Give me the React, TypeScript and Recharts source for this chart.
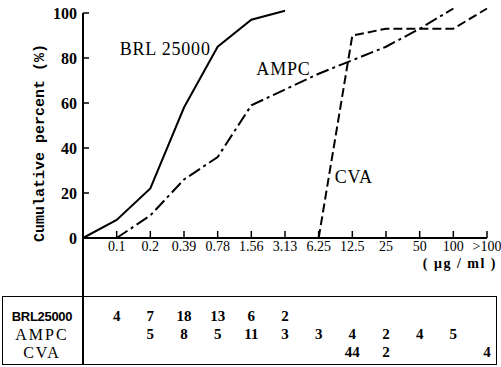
import { LineChart, Line, XAxis, YAxis, ReferenceLine, ReferenceDot, LabelList } from "recharts";

// MIC categories (first one is the origin, drawn without a label)
const categories = ["0", "0.1", "0.2", "0.39", "0.78", "1.56", "3.13", "6.25", "12.5", "25", "50", "100", ">100"];

// cumulative percent
const brlCum = [0, 8, 22, 58, 85, 97, 101, null, null, null, null, null, null];
const ampcCum = [null, 0, 10, 26, 36, 59, 66, 73, 79, 85, 93, 102, null];
const cvaCum = [null, null, null, null, null, null, null, 0, 90, 93, 93, 93, 102];

// number of strains per MIC (table under the chart)
const brlCount = [null, 4, 7, 18, 13, 6, 2, null, null, null, null, null, null];
const ampcCount = [null, null, 5, 8, 5, 11, 3, 3, 4, 2, 4, 5, null];
const cvaCount = [null, null, null, null, null, null, null, null, 44, 2, null, null, 4];

const tableRows = ["BRL25000", "AMPC", "CVA"];
const yTicks = [0, 20, 40, 60, 80, 100];

const data = categories.map((c, i) => ({
    mic: c,
    brl: brlCum[i],
    ampc: ampcCum[i],
    cva: cvaCum[i],
    brlN: brlCount[i],
    ampcN: ampcCount[i],
    cvaN: cvaCount[i],
}));

const SERIF = "'Liberation Serif', 'DejaVu Serif', serif";

const YTitle = ({ viewBox }: any) => {
    const cx = viewBox.x + 40;
    const cy = 143;
    return (
        <text
            x={cx}
            y={cy}
            transform={`rotate(-90 ${cx} ${cy})`}
            textAnchor="middle"
            dominantBaseline="central"
            fontFamily="'Liberation Mono', monospace"
            fontWeight="bold"
            fontSize={15}
            fill="#000"
        >
            Cumulative percent (%)
        </text>
    );
};

const UnitLabel = ({ viewBox }: any) => (
    <text
        x={viewBox.x + viewBox.width + 10}
        y={viewBox.y + 30}
        textAnchor="end"
        fontFamily={SERIF}
        fontWeight="bold"
        fontSize={14}
        letterSpacing={1.5}
        fill="#000"
    >
        ( μg / ml )
    </text>
);

const CurveName = ({ viewBox, text, dx = 0 }: any) => (
    <text
        x={viewBox.x + dx}
        y={viewBox.y}
        fontFamily={SERIF}
        fontSize={18}
        letterSpacing={0.8}
        fill="#000"
    >
        {text}
    </text>
);

const RowName = ({ y, payload }: any) => {
    const name = tableRows[3 - payload.value];
    const isBrl = name === "BRL25000";
    return (
        <text
            x={42}
            y={y}
            textAnchor="middle"
            dominantBaseline="central"
            fontFamily={isBrl ? "'Liberation Sans', sans-serif" : SERIF}
            fontWeight={isBrl ? "bold" : "normal"}
            fontSize={isBrl ? 13 : 16}
            letterSpacing={isBrl ? -0.3 : 2}
            fill="#000"
        >
            {name}
        </text>
    );
};

export default function App() {
    return (
        <div style={{ position: "absolute", left: 0, top: 0, width: 501, height: 367, background: "#fff", fontFamily: SERIF }}>
            {/* table frame and the axis line running down into it */}
            <div style={{ position: "absolute", left: 2, top: 296, width: 493, height: 67, border: "1.5px solid #000" }} />
            <div style={{ position: "absolute", left: 82, top: 238, width: 2, height: 127, background: "#000" }} />

            <div style={{ position: "absolute", left: 0, top: 0 }}>
                <LineChart width={501} height={300} data={data} margin={{ top: 4, right: 14, left: 0, bottom: 22 }}>
                    <XAxis
                        dataKey="mic"
                        height={40}
                        interval={0}
                        tickSize={-7}
                        tickMargin={10}
                        tickFormatter={(v: string) => (v === "0" ? "" : v)}
                        tick={{ fontSize: 14, fill: "#000", fontFamily: SERIF }}
                        axisLine={{ stroke: "#000", strokeWidth: 2 }}
                        tickLine={{ stroke: "#000", strokeWidth: 1.5 }}
                        label={<UnitLabel />}
                    />
                    <YAxis
                        width={83}
                        domain={[0, 104]}
                        ticks={yTicks}
                        interval={0}
                        tickSize={-6}
                        tickMargin={12}
                        axisLine={false}
                        tick={{ fontSize: 16, fill: "#000", fontWeight: "bold", fontFamily: SERIF }}
                        tickLine={{ stroke: "#000", strokeWidth: 1.5 }}
                        label={<YTitle />}
                    />
                    <ReferenceLine
                        segment={[{ x: "0", y: 0 }, { x: "0", y: 100 }]}
                        stroke="#000"
                        strokeWidth={2}
                    />
                    <Line dataKey="brl" stroke="#000" strokeWidth={2} dot={false} isAnimationActive={false} />
                    <Line dataKey="ampc" stroke="#000" strokeWidth={2} strokeDasharray="13 4 3 4" dot={false} isAnimationActive={false} />
                    <Line dataKey="cva" stroke="#000" strokeWidth={2} strokeDasharray="9 4" dot={false} isAnimationActive={false} />
                    <ReferenceDot x="0.1" y={81.3} r={0} fill="none" stroke="none" label={<CurveName text="BRL 25000" dx={3} />} />
                    <ReferenceDot x="1.56" y={72.4} r={0} fill="none" stroke="none" label={<CurveName text="AMPC" dx={5} />} />
                    <ReferenceDot x="6.25" y={24.4} r={0} fill="none" stroke="none" label={<CurveName text="CVA" dx={16} />} />
                </LineChart>
            </div>

            <div style={{ position: "absolute", left: 0, top: 296 }}>
                <LineChart width={501} height={71} data={data} margin={{ top: 11, right: 14, left: 0, bottom: 6 }}>
                    <XAxis dataKey="mic" hide />
                    <YAxis width={83} domain={[0.5, 3.5]} ticks={[1, 2, 3]} interval={0} axisLine={false} tickLine={false} tick={<RowName />} />
                    <Line dataKey={() => 3} stroke="none" dot={false} isAnimationActive={false}>
                        <LabelList dataKey="brlN" position="center" fontSize={15} fontWeight="bold" fill="#000" fontFamily={SERIF} />
                    </Line>
                    <Line dataKey={() => 2} stroke="none" dot={false} isAnimationActive={false}>
                        <LabelList dataKey="ampcN" position="center" fontSize={15} fontWeight="bold" fill="#000" fontFamily={SERIF} />
                    </Line>
                    <Line dataKey={() => 1} stroke="none" dot={false} isAnimationActive={false}>
                        <LabelList dataKey="cvaN" position="center" fontSize={15} fontWeight="bold" fill="#000" fontFamily={SERIF} />
                    </Line>
                </LineChart>
            </div>
        </div>
    );
}
